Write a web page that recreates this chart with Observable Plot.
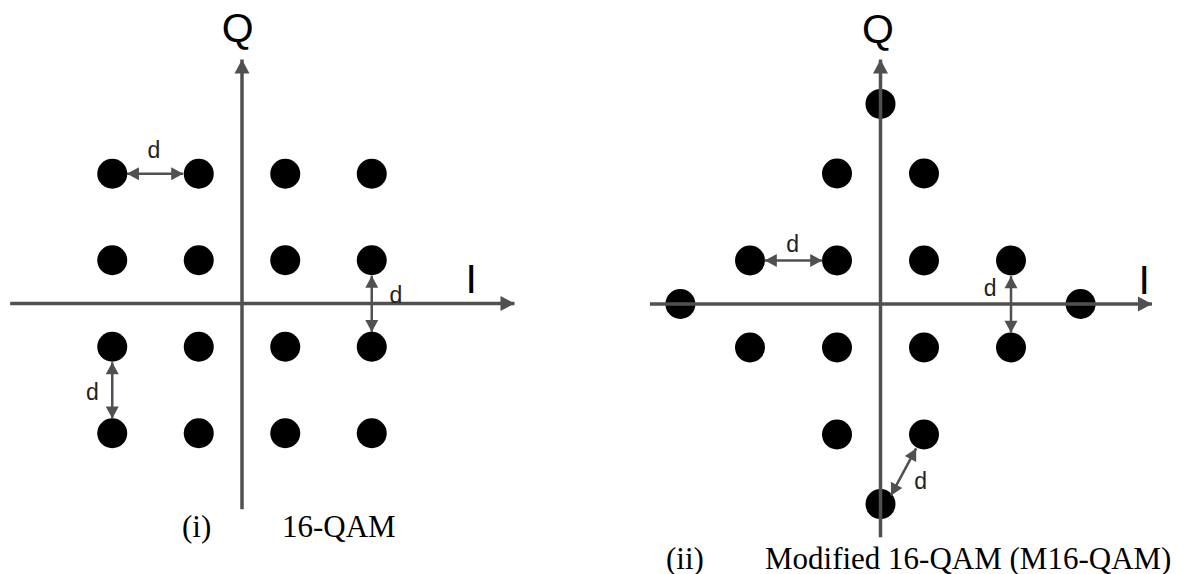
<!DOCTYPE html>
<html>
<head>
<meta charset="utf-8">
<script src="https://cdn.jsdelivr.net/npm/d3@7"></script>
<script src="https://cdn.jsdelivr.net/npm/@observablehq/plot@0.6"></script>
<style>
html, body { margin: 0; padding: 0; background: #fff; overflow: hidden; }
#wrap { position: relative; width: 1190px; height: 574px; }
.panel { position: absolute; top: 0; }
.cap { position: absolute; font-family: "Liberation Serif", "Times New Roman", serif; font-size: 31px; line-height: 31px; color: #000; white-space: nowrap; }
</style>
</head>
<body>
<div id="wrap"></div>
<script>
// ---- Data (in units of d) ----
// (i) 16-QAM constellation points [I, Q]
const qam16Points = [
  [-1.5, 1.5], [-0.5, 1.5], [0.5, 1.5], [1.5, 1.5],
  [-1.5, 0.5], [-0.5, 0.5], [0.5, 0.5], [1.5, 0.5],
  [-1.5, -0.5], [-0.5, -0.5], [0.5, -0.5], [1.5, -0.5],
  [-1.5, -1.5], [-0.5, -1.5], [0.5, -1.5], [1.5, -1.5]
];
// (ii) Modified 16-QAM constellation points [I, Q]
const m16Points = [
  [0, 2.3],
  [-0.5, 1.5], [0.5, 1.5],
  [-1.5, 0.5], [-0.5, 0.5], [0.5, 0.5], [1.5, 0.5],
  [-2.3, 0], [2.3, 0],
  [-1.5, -0.5], [-0.5, -0.5], [0.5, -0.5], [1.5, -0.5],
  [-0.5, -1.5], [0.5, -1.5],
  [0, -2.3]
];
// axis segments [x1, y1, x2, y2] (arrowhead at x2, y2)
const qam16Axes = [[-2.68, 0, 3.15, 0], [0, -2.38, 0, 2.82]];
const m16Axes = [[-2.65, 0, 3.12, 0], [0, -2.68, 0, 2.81]];
// distance markers (double-headed) [x1, y1, x2, y2]
const qam16Dims = [[-1.33, 1.5, -0.68, 1.5], [1.5, 0.32, 1.5, -0.33], [-1.5, -0.68, -1.5, -1.33]];
const m16Dims = [[-1.33, 0.5, -0.67, 0.5], [1.5, 0.32, 1.5, -0.33], [0.12, -2.2, 0.41, -1.66]];
// axis labels
const qam16AxisLabels = [{text: "Q", x: -0.05, y: 3.02}, {text: "I", x: 2.65, y: 0.12}];
const m16AxisLabels = [{text: "Q", x: -0.03, y: 3.0}, {text: "I", x: 3.03, y: 0.12}];
// distance labels
const qam16DimLabels = [{text: "d", x: -1.02, y: 1.77}, {text: "d", x: 1.78, y: 0.09}, {text: "d", x: -1.73, y: -1.03}];
const m16DimLabels = [{text: "d", x: -1.01, y: 0.68}, {text: "d", x: 1.26, y: 0.18}, {text: "d", x: 0.46, y: -2.04}];
// captions
const captions = [
  {num: "(i)", name: "16-QAM"},
  {num: "(ii)", name: "Modified 16-QAM (M16-QAM)"}
];

// ---- Drawing ----
const gray = "#505050";
const tri = {
  draw(context, l, r) {
    context.moveTo(0, -l);
    context.lineTo(-r, 0);
    context.lineTo(r, 0);
    context.closePath();
  }
};
const ang = (x1, y1, x2, y2) => Math.atan2(x2 - x1, y2 - y1) * 180 / Math.PI;

function panel({points, axes, dims, axisLabels, dimLabels, ox, oy, u}) {
  const dx = [-3.5, 4.5], dy = [-3.5, 3.8];
  const axisHeads = axes.map(([x1, y1, x2, y2]) => ({x: x2, y: y2, a: ang(x1, y1, x2, y2)}));
  const dimHeads = dims.flatMap(([x1, y1, x2, y2]) => [
    {x: x2, y: y2, a: ang(x1, y1, x2, y2)},
    {x: x1, y: y1, a: ang(x2, y2, x1, y1)}
  ]);
  return Plot.plot({
    width: 595,
    height: 574,
    style: {background: "transparent", overflow: "visible"},
    x: {domain: dx, range: [ox + dx[0] * u, ox + dx[1] * u], axis: null},
    y: {domain: dy, range: [oy - dy[0] * u, oy - dy[1] * u], axis: null},
    marks: [
      Plot.dot(points, {x: d => d[0], y: d => d[1], r: 15, fill: "#000", stroke: "none"}),
      Plot.link(axes, {x1: d => d[0], y1: d => d[1], x2: d => d[2], y2: d => d[3], stroke: gray, strokeWidth: 3.5, strokeLinecap: "butt"}),
      Plot.vector(axisHeads, {x: "x", y: "y", rotate: "a", length: 14, r: 7.5, anchor: "end", shape: tri, fill: gray, stroke: "none"}),
      Plot.link(dims, {x1: d => d[0], y1: d => d[1], x2: d => d[2], y2: d => d[3], stroke: gray, strokeWidth: 2.5, strokeLinecap: "butt"}),
      Plot.vector(dimHeads, {x: "x", y: "y", rotate: "a", length: 12, r: 6.5, anchor: "end", shape: tri, fill: gray, stroke: "none"}),
      Plot.text(axisLabels, {x: "x", y: "y", text: "text", fontSize: 41, fontFamily: "Liberation Sans, Arial, sans-serif", textAnchor: "middle", lineAnchor: "bottom", fill: "#000"}),
      Plot.text(dimLabels, {x: "x", y: "y", text: "text", fontSize: 23, fontFamily: "Liberation Sans, Arial, sans-serif", textAnchor: "middle", lineAnchor: "middle", fill: "#222"})
    ]
  });
}

const wrap = document.getElementById("wrap");
const left = panel({points: qam16Points, axes: qam16Axes, dims: qam16Dims, axisLabels: qam16AxisLabels, dimLabels: qam16DimLabels, ox: 241.5, oy: 303, u: 86.5});
left.classList.add("panel");
left.style.left = "0px";
wrap.appendChild(left);
const right = panel({points: m16Points, axes: m16Axes, dims: m16Dims, axisLabels: m16AxisLabels, dimLabels: m16DimLabels, ox: 285, oy: 303.5, u: 87});
right.classList.add("panel");
right.style.left = "595px";
wrap.appendChild(right);

// captions (layout positions)
const capLayout = [
  {numLeft: 182, nameLeft: 282, top: 511},
  {numLeft: 666, nameLeft: 765, top: 543}
];
captions.forEach((c, i) => {
  const L = capLayout[i];
  const a = document.createElement("div");
  a.className = "cap"; a.textContent = c.num;
  a.style.left = L.numLeft + "px"; a.style.top = L.top + "px";
  wrap.appendChild(a);
  const b = document.createElement("div");
  b.className = "cap"; b.textContent = c.name;
  b.style.left = L.nameLeft + "px"; b.style.top = L.top + "px";
  wrap.appendChild(b);
});
</script>
</body>
</html>
